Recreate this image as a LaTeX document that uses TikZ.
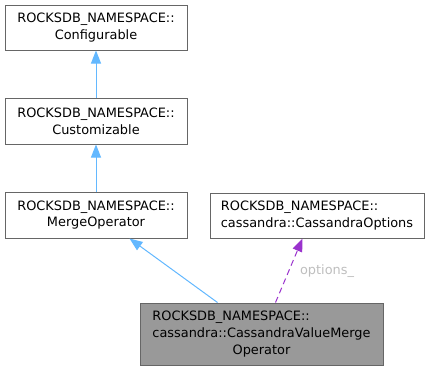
\documentclass[tikz,border=0pt]{standalone}
\usepackage{fontspec}
\setmainfont{DejaVu Sans}
\usetikzlibrary{arrows.meta,calc}
\definecolor{edgeblue}{HTML}{63B8FF}
\definecolor{edgepurple}{HTML}{9A32CD}
\definecolor{boxborder}{HTML}{666666}
\definecolor{boxfill}{HTML}{999999}
\definecolor{labelgray}{HTML}{BEBEBE}
\tikzset{
  classbox/.style={draw=boxborder, line width=1pt, fill=white, inner sep=0pt,
    font=\fontsize{12.9}{16.7}\selectfont, text=black},
  thisbox/.style={classbox, fill=boxfill},
  inherit/.style={draw=edgeblue, line width=1pt,
    -{Triangle[length=13pt,width=10pt,fill=edgeblue]}},
  usage/.style={draw=edgepurple, line width=1pt, dash pattern=on 6pt off 4pt,
    -{Triangle[length=13pt,width=10pt,fill=edgepurple]}},
  edgelabel/.style={text=labelgray, font=\fontsize{12.9}{16.7}\selectfont}
}
\begin{document}
\begin{tikzpicture}[x=1pt,y=-1pt]
  \useasboundingbox (0,0) rectangle (429,370);
  \node[classbox, minimum width=182pt, minimum height=45pt, align=center]
    (conf) at (96,27.5) {ROCKSDB\_NAMESPACE::\\Configurable};
  \node[classbox, minimum width=182pt, minimum height=46pt, align=center]
    (cust) at (96,121) {ROCKSDB\_NAMESPACE::\\Customizable};
  \node[classbox, minimum width=182pt, minimum height=46pt, align=center]
    (merge) at (96,215) {ROCKSDB\_NAMESPACE::\\MergeOperator};
  \node[classbox, minimum width=214pt, minimum height=45pt, align=left]
    (opts) at (317,215.5) {ROCKSDB\_NAMESPACE::\\cassandra::CassandraOptions};
  \node[thisbox, minimum width=243pt, minimum height=62pt]
    (cvmo) at (261.5,334) {\begin{tabular}{@{}l@{}}ROCKSDB\_NAMESPACE::\\
      cassandra::CassandraValueMerge\\
      \multicolumn{1}{@{}c@{}}{Operator}\end{tabular}};
  % inheritance
  \draw[inherit] (cust.north) -- (conf.south);
  \draw[inherit] (merge.north) -- (cust.south);
  \draw[inherit] ($(cvmo.north west)+(78,0)$) -- ($(merge.south west)+(125,0)$);
  % member usage
  \draw[usage] ($(cvmo.north west)+(136,0)$) -- ($(opts.south west)+(93,0)$);
  \node[edgelabel] (optlbl) at (327,271) {options\_};
\end{tikzpicture}
\end{document}
